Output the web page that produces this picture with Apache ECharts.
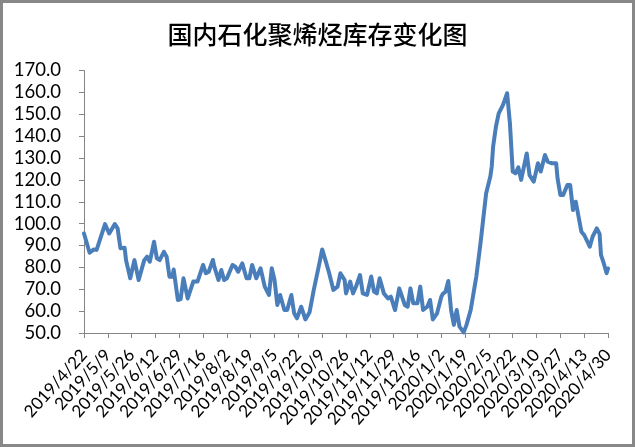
<!DOCTYPE html>
<html>
<head>
<meta charset="utf-8">
<script src="https://cdn.jsdelivr.net/npm/echarts@6/dist/echarts.min.js"></script>
<style>
    html, body { margin: 0; padding: 0; background: #fff; }
    #line-chart { width: 635px; height: 447px; }
</style>
</head>
<body>
<div id="line-chart"></div>
<script>
// 標題
const title = '国内石化聚烯烃库存变化图';

// 日期 (讀圖估計)
const dates = [
    '2019/4/22', '2019/4/26', '2019/4/29', '2019/5/1', '2019/5/7', '2019/5/10', '2019/5/14', '2019/5/16',
    '2019/5/18', '2019/5/21', '2019/5/22', '2019/5/25', '2019/5/28', '2019/5/31', '2019/6/4', '2019/6/6',
    '2019/6/8', '2019/6/11', '2019/6/13', '2019/6/15', '2019/6/18', '2019/6/20', '2019/6/22', '2019/6/24',
    '2019/6/25', '2019/6/28', '2019/6/30', '2019/7/2', '2019/7/5', '2019/7/9', '2019/7/12', '2019/7/13',
    '2019/7/16', '2019/7/18', '2019/7/20', '2019/7/23', '2019/7/24', '2019/7/27', '2019/7/29', '2019/7/31',
    '2019/8/2', '2019/8/6', '2019/8/8', '2019/8/10', '2019/8/13', '2019/8/16', '2019/8/18', '2019/8/20',
    '2019/8/23', '2019/8/26', '2019/8/29', '2019/8/30', '2019/9/1', '2019/9/3', '2019/9/5', '2019/9/7',
    '2019/9/9', '2019/9/10', '2019/9/12', '2019/9/14', '2019/9/17', '2019/9/19', '2019/9/21', '2019/9/24',
    '2019/9/27', '2019/9/30', '2019/10/3', '2019/10/7', '2019/10/9', '2019/10/12', '2019/10/14', '2019/10/17',
    '2019/10/20', '2019/10/22', '2019/10/25', '2019/10/26', '2019/10/29', '2019/10/31', '2019/11/2', '2019/11/5',
    '2019/11/7', '2019/11/10', '2019/11/13', '2019/11/15', '2019/11/17', '2019/11/19', '2019/11/22', '2019/11/25',
    '2019/11/27', '2019/11/30', '2019/12/3', '2019/12/7', '2019/12/9', '2019/12/11', '2019/12/13', '2019/12/16',
    '2019/12/18', '2019/12/20', '2019/12/23', '2019/12/25', '2019/12/27', '2019/12/30', '2020/1/2', '2020/1/3',
    '2020/1/5', '2020/1/7', '2020/1/9', '2020/1/11', '2020/1/13', '2020/1/15', '2020/1/18', '2020/1/20',
    '2020/1/23', '2020/1/27', '2020/1/30', '2020/2/3', '2020/2/6', '2020/2/7', '2020/2/8', '2020/2/10',
    '2020/2/12', '2020/2/15', '2020/2/18', '2020/2/20', '2020/2/22', '2020/2/24', '2020/2/26', '2020/2/28',
    '2020/3/1', '2020/3/3', '2020/3/5', '2020/3/8', '2020/3/11', '2020/3/13', '2020/3/16', '2020/3/18',
    '2020/3/21', '2020/3/24', '2020/3/25', '2020/3/27', '2020/3/29', '2020/4/1', '2020/4/3', '2020/4/5',
    '2020/4/7', '2020/4/8', '2020/4/11', '2020/4/13', '2020/4/14', '2020/4/17', '2020/4/19', '2020/4/22',
    '2020/4/24', '2020/4/25', '2020/4/27', '2020/4/29', '2020/4/30'
];

// 庫存 (萬噸)
const stock = [
    95.5, 86.7, 88.2, 88.0, 99.8, 95.5, 99.8, 97.8,
    88.7, 89.0, 83.3, 75.0, 83.3, 74.2, 83.3, 84.9,
    82.6, 91.7, 84.1, 83.3, 87.1, 84.9, 75.7, 75.7,
    79.0, 65.1, 65.5, 75.0, 65.8, 73.5, 73.5, 74.2,
    81.1, 77.3, 78.0, 83.4, 80.3, 74.2, 78.8, 74.2,
    75.0, 81.1, 80.3, 78.0, 81.8, 75.0, 75.0, 81.1,
    75.0, 79.6, 71.2, 70.4, 67.4, 79.6, 74.2, 62.8,
    67.4, 68.1, 60.5, 60.5, 67.4, 59.0, 56.7, 62.0,
    56.2, 59.5, 69.7, 81.8, 88.2, 81.8, 77.3, 69.7,
    71.2, 77.3, 74.2, 68.1, 73.5, 68.1, 71.0, 76.5,
    68.1, 67.4, 75.8, 68.9, 68.1, 75.0, 68.1, 65.8,
    66.6, 60.5, 70.4, 62.8, 62.0, 70.4, 63.6, 63.6,
    71.2, 60.5, 62.0, 65.1, 56.2, 59.0, 66.5, 67.8,
    68.9, 73.8, 60.5, 53.7, 60.5, 52.9, 50.3, 53.7,
    60.5, 75.8, 91.0, 113.8, 121.5, 126.0, 135.2, 144.3,
    150.4, 154.2, 159.6, 145.8, 123.8, 123.0, 125.7, 120.0,
    126.0, 132.1, 122.2, 119.2, 127.6, 123.8, 131.4, 128.3,
    127.6, 127.6, 120.7, 113.1, 113.1, 117.7, 117.7, 106.2,
    110.0, 110.8, 96.3, 94.8, 94.8, 89.5, 94.0, 97.8,
    95.3, 85.7, 81.8, 77.3, 79.5
];

// 橫軸起訖與刻度間隔 (天)
const startDate = '2019/4/22';
const endDate = '2020/4/30';
const tickDays = 17;

// y 軸刻度
const yMin = 50;
const yMax = 170;
const yStep = 10;

const DAY = 24 * 3600 * 1000;
const toUTC = (s) => {
    const p = s.split('/').map(Number);
    return Date.UTC(p[0], p[1] - 1, p[2]);
};
const base = toUTC(startDate);
const dayOf = (s) => Math.round((toUTC(s) - base) / DAY);
const dayLabel = (v) => {
    const d = new Date(base + v * DAY);
    return [d.getUTCFullYear(), d.getUTCMonth() + 1, d.getUTCDate()].join('/');
};

const seriesData = dates.map((d, i) => [dayOf(d), stock[i]]);

const chart = echarts.init(document.getElementById('line-chart'));

const option = {
    animation: false,
    backgroundColor: '#fff',
    title: {
        text: title,
        left: 'center',
        top: 17,
        textStyle: {
            fontFamily: 'Noto Sans CJK SC',
            fontSize: 25,
            fontWeight: 500,
            color: '#000'
        }
    },
    graphic: [{
        type: 'rect',
        shape: { x: 1.5, y: 1.5, width: 632, height: 444 },
        style: { fill: 'none', stroke: '#888', lineWidth: 3 },
        silent: true
    }],
    grid: {
        left: 84,
        right: 27,
        top: 70.5,
        bottom: 114,
        containLabel: false
    },
    xAxis: {
        type: 'value',
        min: 0,
        max: dayOf(endDate),
        interval: tickDays,
        splitLine: { show: false },
        axisLine: { lineStyle: { color: '#868686', width: 1 } },
        axisTick: { show: true, length: 5, lineStyle: { color: '#868686' } },
        axisLabel: {
            rotate: 48,
            margin: 19,
            color: '#000',
            fontFamily: 'Lato',
            fontSize: 17,
            formatter: dayLabel
        }
    },
    yAxis: {
        type: 'value',
        min: yMin,
        max: yMax,
        interval: yStep,
        splitLine: { show: false },
        axisLine: { show: true, lineStyle: { color: '#868686', width: 1 } },
        axisTick: { show: true, length: 5, lineStyle: { color: '#868686' } },
        axisLabel: {
            margin: 23,
            color: '#000',
            fontFamily: 'Lato',
            fontSize: 18.5,
            formatter: (v) => v.toFixed(1)
        }
    },
    series: [{
        name: '库存',
        type: 'line',
        data: seriesData,
        showSymbol: false,
        smooth: false,
        lineStyle: {
            color: '#4a7ebb',
            width: 4,
            cap: 'round',
            join: 'round'
        }
    }]
};

chart.setOption(option);

window.addEventListener('resize', () => chart.resize());
</script>
</body>
</html>
